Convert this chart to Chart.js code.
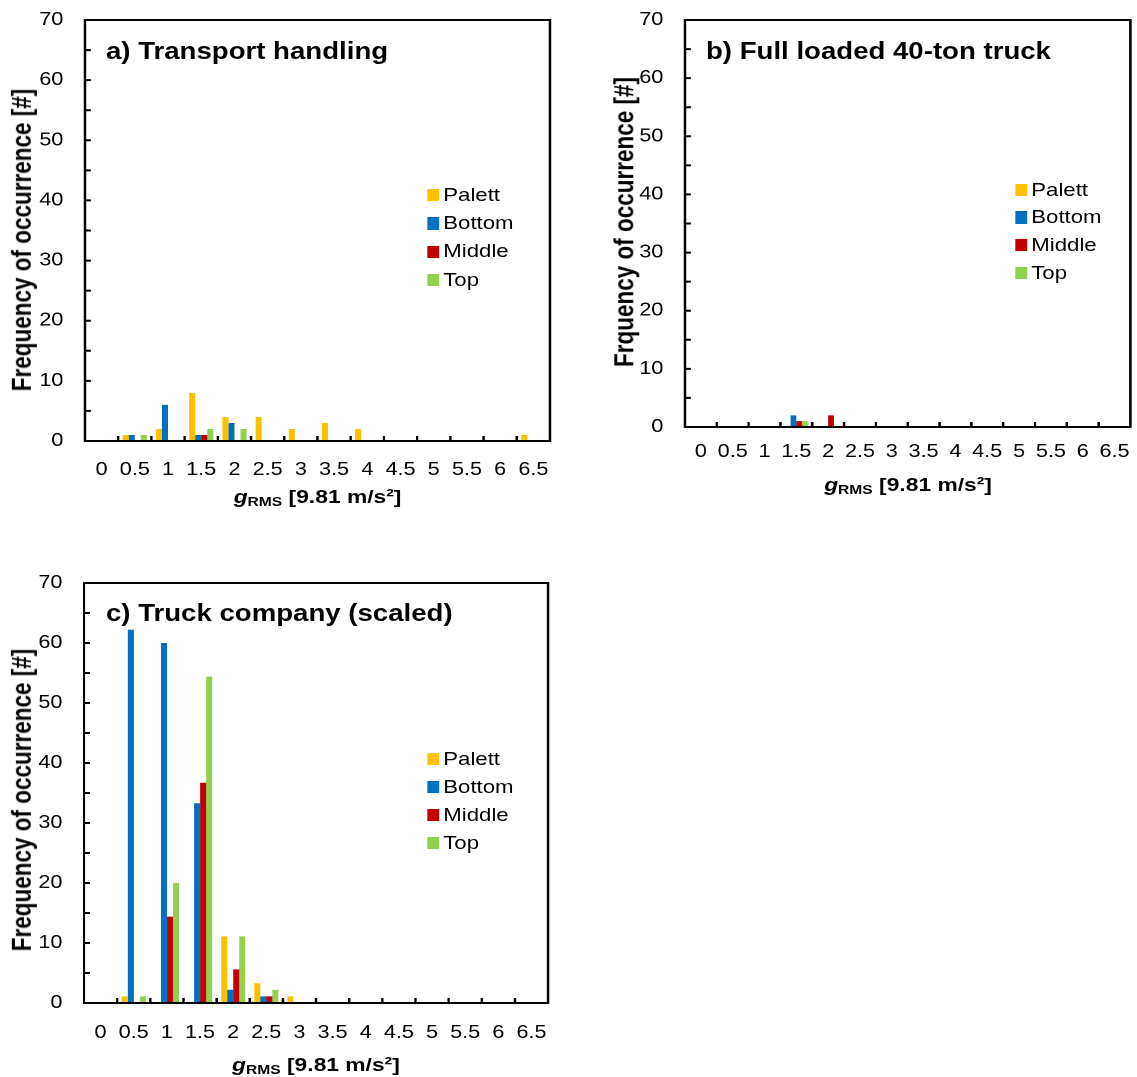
<!DOCTYPE html>
<html>
<head>
<meta charset="utf-8">
<script src="https://cdn.jsdelivr.net/npm/chart.js@4.4.1/dist/chart.umd.min.js"></script>
<style>
html,body{margin:0;padding:0;background:#fff;}
body{width:1137px;height:1077px;overflow:hidden;position:relative;font-family:"Liberation Sans",Arial,sans-serif;color:#000;}
/* the original figure is stretched horizontally, so everything is laid out narrow and scaled */
#stage{position:absolute;left:0;top:0;width:948px;height:1077px;transform:scaleX(1.2);transform-origin:0 0;}
canvas{position:absolute;}
.ptitle{position:absolute;font-weight:bold;font-size:23px;line-height:1;white-space:nowrap;}
.xtitle{position:absolute;font-weight:bold;font-size:19px;line-height:1;white-space:nowrap;transform:translate(-50%,-50%);}
.xtitle sub{font-size:13px;vertical-align:-3px;}
.ytitle{position:absolute;font-weight:bold;font-size:22.5px;line-height:1;white-space:nowrap;transform:translate(-50%,-50%) rotate(-90deg);}
.legend{position:absolute;font-size:18.5px;line-height:1;}
.legend .row{display:flex;align-items:center;white-space:nowrap;}
.legend .sw{display:inline-block;width:10.3px;height:12.3px;margin-right:3.3px;}
</style>
</head>
<body>
<div id="stage"></div>
<script>
// Data
const categories = ['0','0.5','1','1.5','2','2.5','3','3.5','4','4.5','5','5.5','6','6.5'];
const seriesNames = ['Palett','Bottom','Middle','Top'];
const seriesColors = ['#FFC000','#0070C0','#C00000','#92D050'];
const yTicks = {min:0, max:70, step:10, minor:5};

// a) Transport handling
const aPalett = [0,1,2,8,4,4,2,3,2,0,0,0,0,1];
const aBottom = [0,1,6,1,3,0,0,0,0,0,0,0,0,0];
const aMiddle = [0,0,0,1,0,0,0,0,0,0,0,0,0,0];
const aTop    = [0,1,0,2,2,0,0,0,0,0,0,0,0,0];

// b) Full loaded 40-ton truck
const bPalett = [0,0,0,0,0,0,0,0,0,0,0,0,0,0];
const bBottom = [0,0,0,2,0,0,0,0,0,0,0,0,0,0];
const bMiddle = [0,0,0,1,2,0,0,0,0,0,0,0,0,0];
const bTop    = [0,0,0,1,0,0,0,0,0,0,0,0,0,0];

// c) Truck company (scaled)
const cPalett = [0,1.1,0,0,11.1,3.3,1.1,0,0,0,0,0,0,0];
const cBottom = [0,62.2,60,33.3,2.2,1.1,0,0,0,0,0,0,0,0];
const cMiddle = [0,0,14.4,36.7,5.6,1.1,0,0,0,0,0,0,0,0];
const cTop    = [0,1.1,20,54.4,11.1,2.2,0,0,0,0,0,0,0,0];

const FONT = '"Liberation Sans", Arial, sans-serif';

// Layout of the three panels (unstretched px)
const panels = [
  {title:'a) Transport handling', yTitle:'Frequency of occurrence [#]', values:[aPalett,aBottom,aMiddle,aTop],
   x:0, y:0, w:470, h:480, padTop:20, padRight:11.7, yW:70.8, xH:39, xTl:18,
   tx:88.3, ty:40.3, xtx:264.6, xty:497, ytx:19.2, yty:240, lx:355.8, ly:181, lrow:28.3},
  {title:'b) Full loaded 40-ton truck', yTitle:'Frquency of occurrence [#]', values:[bPalett,bBottom,bMiddle,bTop],
   x:500, y:0, w:447.5, h:470, padTop:20, padRight:5, yW:70.8, xH:43, xTl:14,
   tx:588.3, ty:40.3, xtx:756.7, xty:485, ytx:520.8, yty:222, lx:845.8, ly:176, lrow:27.7},
  {title:'c) Truck company (scaled)', yTitle:'Frequency of occurrence [#]', values:[cPalett,cBottom,cMiddle,cTop],
   x:0, y:560, w:470, h:480, padTop:23, padRight:13.3, yW:70, xH:37, xTl:19,
   tx:88.3, ty:602, xtx:263.3, xty:1065, ytx:18.5, yty:800, lx:355.8, ly:745, lrow:28}
];

// Frame, minor y ticks and between-category x ticks, all pointing inward
const framePlugin = {
  id:'frame',
  afterDraw(chart){
    const {ctx, chartArea:a, scales:{x, y}} = chart;
    ctx.save();
    ctx.strokeStyle = '#000'; ctx.lineWidth = 2;
    ctx.strokeRect(a.left, a.top, a.right-a.left, a.bottom-a.top);
    ctx.beginPath();
    for(let v=yTicks.min+yTicks.minor; v<yTicks.max; v+=yTicks.minor){
      const py = y.getPixelForValue(v);
      ctx.moveTo(a.left, py); ctx.lineTo(a.left+5, py);
    }
    for(let i=1; i<categories.length; i++){
      const px = (x.getPixelForValue(i-1)+x.getPixelForValue(i))/2;
      ctx.moveTo(px, a.bottom); ctx.lineTo(px, a.bottom-5);
    }
    ctx.stroke();
    ctx.restore();
  }
};

const stage = document.getElementById('stage');

panels.forEach(p=>{
  const canvas = document.createElement('canvas');
  canvas.width = p.w; canvas.height = p.h;
  canvas.style.left = p.x+'px'; canvas.style.top = p.y+'px';
  stage.appendChild(canvas);

  // label distance from the axis comes from an invisible tick mark, so ticks.padding stays 0
  new Chart(canvas, {
    type:'bar',
    data:{
      labels:categories,
      datasets:seriesNames.map((n,i)=>({label:n, data:p.values[i], backgroundColor:seriesColors[i],
        categoryPercentage:4/5.5, barPercentage:1, borderWidth:0}))
    },
    options:{
      responsive:false, animation:false, devicePixelRatio:2,
      layout:{padding:{left:0, top:p.padTop, right:p.padRight, bottom:0}},
      plugins:{legend:{display:false}, tooltip:{enabled:false}},
      scales:{
        x:{
          grid:{display:true, drawOnChartArea:false, drawTicks:true, tickLength:p.xTl, tickColor:'rgba(0,0,0,0)'},
          border:{display:false},
          ticks:{color:'#000', font:{size:18, family:FONT}, padding:0, maxRotation:0, autoSkip:false},
          afterFit:s=>{s.height = p.xH;}
        },
        y:{
          min:yTicks.min, max:yTicks.max,
          grid:{display:true, drawOnChartArea:false, drawTicks:true, tickLength:18, tickColor:'rgba(0,0,0,0)'},
          border:{display:false},
          ticks:{stepSize:yTicks.step, color:'#000', font:{size:18, family:FONT}, padding:0},
          afterFit:s=>{s.width = p.yW;}
        }
      }
    },
    plugins:[framePlugin]
  });

  const t = document.createElement('div'); t.className='ptitle';
  t.style.left = p.tx+'px'; t.style.top = p.ty+'px'; t.textContent = p.title;
  stage.appendChild(t);

  const yt = document.createElement('div'); yt.className='ytitle';
  yt.style.left = p.ytx+'px'; yt.style.top = p.yty+'px'; yt.textContent = p.yTitle;
  stage.appendChild(yt);

  const xt = document.createElement('div'); xt.className='xtitle';
  xt.style.left = p.xtx+'px'; xt.style.top = p.xty+'px';
  xt.innerHTML = '<i>g</i><sub>RMS</sub> [9.81 m/s²]';
  stage.appendChild(xt);

  const lg = document.createElement('div'); lg.className='legend';
  lg.style.left = p.lx+'px'; lg.style.top = p.ly+'px';
  seriesNames.forEach((n,i)=>{
    const r = document.createElement('div'); r.className='row'; r.style.height = p.lrow+'px';
    r.innerHTML = `<span class="sw" style="background:${seriesColors[i]}"></span>${n}`;
    lg.appendChild(r);
  });
  stage.appendChild(lg);
});
</script>
</body>
</html>
